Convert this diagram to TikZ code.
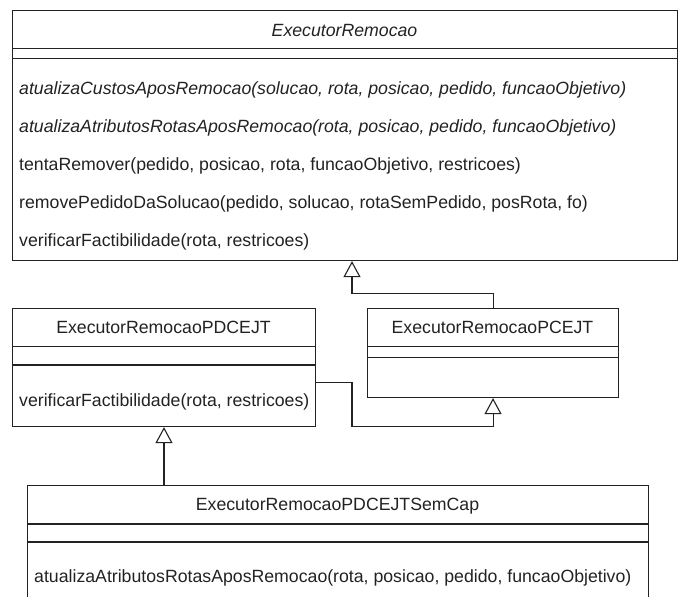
\documentclass[tikz,border=0pt]{standalone}
\usepackage{fontspec}
\setmainfont{Liberation Sans}
\usetikzlibrary{arrows.meta}
\definecolor{ink}{HTML}{222222}
\newcommand\umlfont{\fontsize{17.7}{20}\selectfont}
\begin{document}
\begin{tikzpicture}[x=1pt,y=-1pt,
  classbox/.style={draw=ink, line width=1.1pt, rectangle, inner sep=0pt, anchor=north west},
  txt/.style={inner sep=0pt, font=\umlfont, text=ink},
  member/.style={txt, anchor=west},
  abstract/.style={font=\umlfont\itshape},
  sep/.style={draw=ink, line width=1.1pt},
  inh/.style={draw=ink, line width=1.1pt, -{Triangle[open, length=16pt, width=17pt, fill=white]}}]
\clip (0,0) rectangle (678,597);
\useasboundingbox (0,0) rectangle (678,597);

% ExecutorRemocao (abstract)
\node[classbox, minimum width=665pt, minimum height=250pt] (er) at (12,10) {};
\node[txt, abstract] (er-t) at (344.5,30) {ExecutorRemocao};
\draw[sep] (12,48.7) -- (677,48.7);
\draw[sep] (12,58.7) -- (677,58.7);
\node[member, abstract] (er-m1) at (19,89.5) {atualizaCustosAposRemocao(solucao, rota, posicao, pedido, funcaoObjetivo)};
\node[member, abstract] (er-m2) at (19,127.5) {atualizaAtributosRotasAposRemocao(rota, posicao, pedido, funcaoObjetivo)};
\node[member] (er-m3) at (19,165.5) {tentaRemover(pedido, posicao, rota, funcaoObjetivo, restricoes)};
\node[member] (er-m4) at (19,203.5) {removePedidoDaSolucao(pedido, solucao, rotaSemPedido, posRota, fo)};
\node[member] (er-m5) at (19,241.5) {verificarFactibilidade(rota, restricoes)};

% ExecutorRemocaoPDCEJT
\node[classbox, minimum width=303pt, minimum height=118pt] (pd) at (12,308) {};
\node[txt] (pd-t) at (163.5,327.5) {ExecutorRemocaoPDCEJT};
\draw[sep] (12,346.5) -- (315,346.5);
\draw[sep] (12,365) -- (315,365);
\node[member] (pd-m1) at (19,402) {verificarFactibilidade(rota, restricoes)};

% ExecutorRemocaoPCEJT
\node[classbox, minimum width=251pt, minimum height=89pt] (pc) at (367,308) {};
\node[txt] (pc-t) at (492.5,327.5) {ExecutorRemocaoPCEJT};
\draw[sep] (367,346.7) -- (618,346.7);
\draw[sep] (367,357.3) -- (618,357.3);

% ExecutorRemocaoPDCEJTSemCap
\node[classbox, minimum width=621pt, minimum height=140pt] (sc) at (27,485) {};
\node[txt] (sc-t) at (337.5,506) {ExecutorRemocaoPDCEJTSemCap};
\draw[sep] (27,524) -- (648,524);
\draw[sep] (27,542) -- (648,542);
\node[member] (sc-m1) at (34,577.5) {atualizaAtributosRotasAposRemocao(rota, posicao, pedido, funcaoObjetivo)};

% generalisation arrows
\coordinate (j1) at (352,293.5);
\draw[inh] (pc.north) |- (j1) -- (j1 |- er.south);
\coordinate (j2) at (352,382.5);
\coordinate (j3) at (352,426.5);
\draw[inh] (j2 -| pd.east) -- (j2) -- (j3) -| (pc.south);
\coordinate (k) at (164,460);
\draw[inh] (k |- sc.north) -- (k |- pd.south);
\end{tikzpicture}
\end{document}
